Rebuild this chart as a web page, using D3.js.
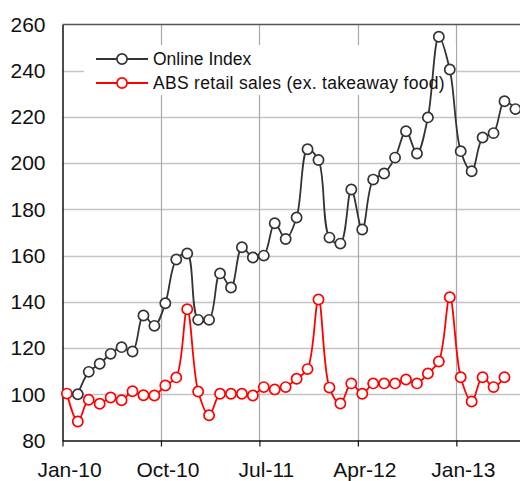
<!DOCTYPE html>
<html>
<head>
<meta charset="utf-8">
<script src="https://cdn.jsdelivr.net/npm/d3@7"></script>
<style>
  body { margin: 0; background: #fff; }
  svg { display: block; font-family: "Liberation Sans", Arial, sans-serif; }
</style>
</head>
<body>
<div id="chart-area"></div>
<script>

// Month index 0 = Jan-10
var tickMonths = [0, 9, 18, 27, 36];
var tickLabels = ["Jan-10", "Oct-10", "Jul-11", "Apr-12", "Jan-13"];
var yTicks = [80, 100, 120, 140, 160, 180, 200, 220, 240, 260];

// Online Index starts Feb-10 (month 1)
var onlineStart = 1;
var onlineIndex = [100, 109.7, 113.2, 117.5, 120.4, 118.5, 134.1, 129.6, 139.4, 158.3,
    160.9, 132.2, 132.2, 152.3, 146.2, 163.6, 159.2, 160, 174, 167.2,
    176.5, 206, 201.4, 167.8, 165.2, 188.6, 171.3, 192.9, 195.5, 202.4,
    213.8, 204.2, 219.8, 254.7, 240.5, 205.2, 196.5, 211.1, 213, 226.8,
    223.4];

// ABS retail sales starts Jan-10 (month 0)
var absStart = 0;
var absSales = [100.3, 88.2, 97.6, 95.9, 98.6, 97.4, 101.3, 99.6, 99.5, 103.8,
    107.3, 136.8, 101.2, 90.9, 100.2, 100.2, 100.2, 99.5, 103.1, 102.1,
    103.1, 106.7, 110.9, 141, 102.9, 96, 104.7, 100.2, 104.7, 104.7,
    104.7, 106.4, 104.7, 109, 114.2, 142, 107.4, 96.9, 107.4, 103.1,
    107.4];

var seriesNames = ["Online Index", "ABS retail sales (ex. takeaway food)"];
var seriesColors = ["#333333", "#ff0000"];

var W = 520, H = 481;
var plotLeft = 62.5, plotTop = 24.5, plotBottom = 440.5;
var pxPerMonth = 10.94;

var svg = d3.select("#chart-area").append("svg")
    .attr("width", W)
    .attr("height", H);

// Scales
var x = d3.scaleLinear().domain([0, 44]).range([plotLeft, plotLeft + 44 * pxPerMonth]);
var y = d3.scaleLinear().domain([80, 260]).range([plotBottom, plotTop]);

// point sits a bit after the month start
var pos = function(i) { return x(i + 0.4); };

// Horizontal gridlines
svg.append("g")
    .selectAll("line")
    .data(yTicks.filter(function(d){ return d > 80 && d < 260; }))
    .enter().append("line")
    .attr("x1", plotLeft).attr("x2", W)
    .attr("y1", function(d){ return Math.round(y(d)) + 0.5; })
    .attr("y2", function(d){ return Math.round(y(d)) + 0.5; })
    .attr("stroke", "#c4c4c4")
    .attr("stroke-width", 1.5);

// Vertical gridlines
svg.append("g")
    .selectAll("line")
    .data(tickMonths.slice(1))
    .enter().append("line")
    .attr("x1", function(d){ return Math.round(x(d)) + 0.5; })
    .attr("x2", function(d){ return Math.round(x(d)) + 0.5; })
    .attr("y1", plotTop).attr("y2", plotBottom)
    .attr("stroke", "#a8a8a8")
    .attr("stroke-width", 1.2);

// Top border
svg.append("line")
    .attr("x1", plotLeft).attr("x2", W)
    .attr("y1", plotTop).attr("y2", plotTop)
    .attr("stroke", "#555")
    .attr("stroke-width", 1.5);

// Legend background (hides gridlines)
svg.append("rect")
    .attr("x", 84).attr("y", 45)
    .attr("width", 372).attr("height", 50)
    .attr("fill", "#fff");

// Axes
var xAxisCall = d3.axisBottom(x)
    .tickValues(tickMonths)
    .tickFormat("")
    .tickSize(6)
    .tickSizeOuter(0);

var xAxis = svg.append("g")
    .attr("transform", "translate(0," + plotBottom + ")")
    .call(xAxisCall);
xAxis.select(".domain").attr("stroke", "#111").attr("stroke-width", 1.5);
xAxis.selectAll(".tick line").attr("stroke", "#111").attr("stroke-width", 1.2);

svg.append("g")
    .selectAll("text")
    .data(tickMonths)
    .enter().append("text")
    .attr("x", function(d){ return x(d) + 7; })
    .attr("y", 477)
    .attr("text-anchor", "middle")
    .attr("font-size", "21px")
    .attr("fill", "#111")
    .text(function(d, i){ return tickLabels[i]; });

var yAxisCall = d3.axisLeft(y)
    .tickValues(yTicks)
    .tickSize(0)
    .tickPadding(17);

var yAxis = svg.append("g")
    .attr("transform", "translate(" + plotLeft + ",0)")
    .call(yAxisCall);
yAxis.select(".domain").attr("stroke", "#111").attr("stroke-width", 1.5);
yAxis.selectAll("text")
    .attr("font-size", "21px")
    .attr("font-family", "Liberation Sans, Arial, sans-serif")
    .attr("fill", "#111");

// Lines
var line = d3.line()
    .x(function(d){ return pos(d.m); })
    .y(function(d){ return y(d.v); })
    .curve(d3.curveCatmullRom.alpha(0.5));

var series = [
    onlineIndex.map(function(v, i){ return { m: onlineStart + i, v: v }; }),
    absSales.map(function(v, i){ return { m: absStart + i, v: v }; })
];

// draw red first so the black sits above, like the reference
[1, 0].forEach(function(k) {
    var g = svg.append("g");
    g.append("path")
        .attr("d", line(series[k]))
        .attr("fill", "none")
        .attr("stroke", seriesColors[k])
        .attr("stroke-width", 1.8);
    g.selectAll("circle")
        .data(series[k])
        .enter().append("circle")
        .attr("cx", function(d){ return pos(d.m); })
        .attr("cy", function(d){ return y(d.v); })
        .attr("r", 5.1)
        .attr("fill", "#fff")
        .attr("stroke", seriesColors[k])
        .attr("stroke-width", 1.7);
});

// Legend
var legendY = [59, 83];
seriesNames.forEach(function(name, k) {
    var lg = svg.append("g");
    lg.append("line")
        .attr("x1", 96).attr("x2", 148)
        .attr("y1", legendY[k]).attr("y2", legendY[k])
        .attr("stroke", seriesColors[k])
        .attr("stroke-width", 1.8);
    lg.append("circle")
        .attr("cx", 122).attr("cy", legendY[k])
        .attr("r", 5.1)
        .attr("fill", "#fff")
        .attr("stroke", seriesColors[k])
        .attr("stroke-width", 1.7);
    lg.append("text")
        .attr("x", 153)
        .attr("y", legendY[k] + 6)
        .attr("font-size", "17.5px")
        .attr("letter-spacing", k == 1 ? "0.3px" : "0px")
        .attr("fill", "#111")
        .text(name);
});

</script>
</body>
</html>
